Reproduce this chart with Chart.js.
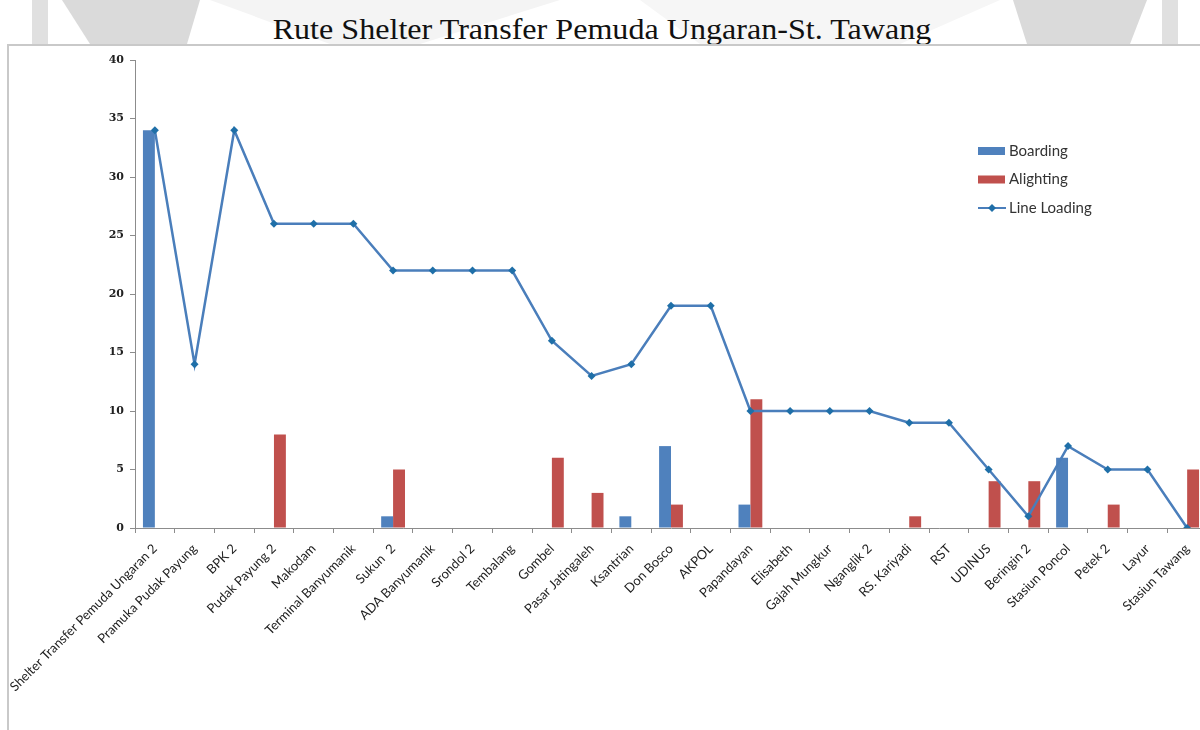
<!DOCTYPE html>
<html>
<head>
<meta charset="utf-8">
<title>Rute Shelter Transfer Pemuda Ungaran-St. Tawang</title>
<script src="https://cdn.jsdelivr.net/npm/chart.js@4/dist/chart.umd.min.js"></script>
<style>
  html, body { margin: 0; padding: 0; background: #fff; overflow: hidden; }
  body { width: 1200px; height: 730px; position: relative; }
  #bg { position: absolute; left: 0; top: 0; }
  #title {
    position: absolute; left: 0; top: 13px; width: 1204px; text-align: center;
    font-family: "Liberation Serif", "Times New Roman", serif; font-size: 30px;
    color: #111; line-height: 32px; transform: scaleX(1.07); transform-origin: 602px 0;
  }
  #frame {
    position: absolute; left: 7px; top: 44px; width: 1300px; height: 800px;
    border-left: 2px solid #c9c9c9; border-top: 2px solid #c9c9c9;
  }
  #wrap { position: absolute; left: 8px; top: 46px; width: 1212px; height: 684px; }
</style>
</head>
<body>
<!-- faint page watermark behind the heading -->
<svg id="bg" width="1200" height="44">
  <rect x="32" y="0" width="16" height="44" fill="#e0e0e0"/>
  <polygon points="62,0 200,0 187,44 90,44" fill="#dadada"/>
  <polygon points="210,0 560,0 420,44 330,44" fill="#f4f4f4"/>
  <polygon points="640,0 1000,0 900,44 700,44" fill="#f6f6f6"/>
  <polygon points="1013,0 1147,0 1130,44 1027,44" fill="#dadada"/>
  <rect x="1162" y="0" width="16" height="44" fill="#e0e0e0"/>
</svg>
<div id="title">Rute Shelter Transfer Pemuda Ungaran-St. Tawang</div>
<div id="frame"></div>
<div id="wrap"><canvas id="chart" width="1212" height="684"></canvas></div>

<script>
// halte sepanjang rute
const stops = [
  'Shelter Transfer Pemuda Ungaran 2', 'Pramuka Pudak Payung', 'BPK 2', 'Pudak Payung 2',
  'Makodam', 'Terminal Banyumanik', 'Sukun  2', 'ADA Banyumanik', 'Srondol 2',
  'Tembalang', 'Gombel', 'Pasar Jatingaleh', 'Ksantrian', 'Don Bosco', 'AKPOL',
  'Papandayan', 'Elisabeth', 'Gajah Mungkur', 'Nganglik 2', 'RS. Kariyadi', 'RST',
  'UDINUS', 'Beringin 2', 'Stasiun Poncol', 'Petek 2', 'Layur', 'Stasiun Tawang'
];

const boarding = [34, 0, 0, 0, 0, 0, 1, 0, 0, 0, 0, 0, 1, 7, 0, 2, 0, 0, 0, 0, 0, 0, 0, 6, 0, 0, 0];
const alighting = [0, 0, 0, 8, 0, 0, 5, 0, 0, 0, 6, 3, 0, 2, 0, 11, 0, 0, 0, 1, 0, 4, 4, 0, 2, 0, 5];
const lineLoading = [34, 14, 34, 26, 26, 26, 22, 22, 22, 22, 16, 13, 14, 19, 19, 10, 10, 10, 10, 9, 9, 5, 1, 7, 5, 5, 0];

const yTicks = [0, 5, 10, 15, 20, 25, 30, 35, 40];

const BLUE = '#4f81bd';
const RED = '#c0504d';
const LINE = '#4a7ebb';
const MARKER = '#1f6fa8';

/* ==============================
   Legend di dalam area plot
============================== */
const legendBox = {
  id: 'legendBox',
  afterDraw(chart) {
    const ctx = chart.ctx;
    const x = 970, y0 = 105, gap = 28.5;
    ctx.save();
    ctx.font = '15px Lato, "Open Sans", sans-serif';
    ctx.textBaseline = 'middle';

    const items = [
      { label: 'Boarding', type: 'bar', color: BLUE },
      { label: 'Alighting', type: 'bar', color: RED },
      { label: 'Line Loading', type: 'line', color: LINE }
    ];
    items.forEach((it, i) => {
      const y = y0 + i * gap;
      if (it.type === 'bar') {
        ctx.fillStyle = it.color;
        ctx.fillRect(x, y - 4, 27, 8);
      } else {
        ctx.strokeStyle = it.color;
        ctx.lineWidth = 2;
        ctx.beginPath();
        ctx.moveTo(x, y);
        ctx.lineTo(x + 28, y);
        ctx.stroke();
        ctx.fillStyle = MARKER;
        ctx.beginPath();
        ctx.moveTo(x + 14, y - 4);
        ctx.lineTo(x + 18, y);
        ctx.lineTo(x + 14, y + 4);
        ctx.lineTo(x + 10, y);
        ctx.closePath();
        ctx.fill();
      }
      ctx.fillStyle = '#333';
      ctx.fillText(it.label, x + 31, y);
    });
    ctx.restore();
  }
};

const ctx = document.getElementById('chart');
new Chart(ctx, {
  type: 'bar',
  data: {
    labels: stops,
    datasets: [
      {
        type: 'line',
        label: 'Line Loading',
        data: lineLoading,
        borderColor: LINE,
        borderWidth: 2.5,
        pointStyle: 'rectRot',
        pointRadius: 4,
        pointBackgroundColor: MARKER,
        pointBorderColor: MARKER,
        pointBorderWidth: 0,
        tension: 0,
        order: 0
      },
      {
        label: 'Boarding',
        data: boarding,
        backgroundColor: BLUE,
        categoryPercentage: 0.6,
        barPercentage: 1.0,
        order: 1
      },
      {
        label: 'Alighting',
        data: alighting,
        backgroundColor: RED,
        categoryPercentage: 0.6,
        barPercentage: 1.0,
        order: 1
      }
    ]
  },
  options: {
    responsive: false,
    animation: false,
    layout: { padding: { top: 14, right: 13, left: 0, bottom: 0 } },
    plugins: {
      legend: { display: false },
      tooltip: { enabled: false }
    },
    scales: {
      x: {
        grid: { display: true, drawOnChartArea: false, color: '#8c8c8c', tickLength: 5, offset: true },
        border: { color: '#8c8c8c', width: 1 },
        ticks: {
          autoSkip: false,
          minRotation: 45,
          maxRotation: 45,
          padding: 8,
          color: '#222',
          font: { family: 'Lato, "Open Sans", sans-serif', size: 13 }
        },
        afterFit(scale) {
          scale.height = 202;
          scale.paddingLeft = 0;
          scale.paddingRight = 0;
        }
      },
      y: {
        min: 0,
        max: 40,
        afterBuildTicks(scale) {
          scale.ticks = yTicks.map(v => ({ value: v }));
        },
        grid: { display: true, drawOnChartArea: false, color: '#8c8c8c', tickLength: 5 },
        border: { color: '#8c8c8c', width: 1 },
        ticks: {
          padding: 6,
          color: '#222',
          font: { family: '"DejaVu Serif", serif', size: 11, weight: 'bold' }
        },
        afterFit(scale) {
          scale.width = 127;
          scale.paddingTop = 0;
          scale.paddingBottom = 0;
        }
      }
    }
  },
  plugins: [legendBox]
});
</script>
</body>
</html>
